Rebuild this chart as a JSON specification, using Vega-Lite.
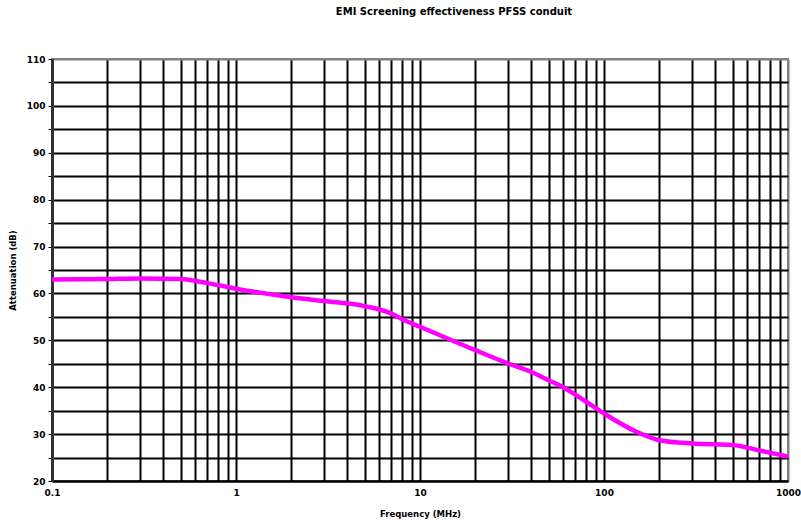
{
  "$schema": "https://vega.github.io/schema/vega-lite/v6.json",
  "autosize": {"type": "none"},
  "padding": {"left": 52, "top": 59, "right": 13, "bottom": 39},
  "width": 736,
  "height": 422,
  "title": {
    "text": "EMI Screening effectiveness PFSS conduit",
    "font": "DejaVu Sans",
    "fontSize": 10,
    "fontWeight": "bold",
    "color": "#000000",
    "offset": 38,
    "dx": 34
  },
  "config": {
    "view": {"stroke": "#808080", "strokeWidth": 2},
    "axis": {
      "labelFont": "DejaVu Sans",
      "labelFontSize": 9,
      "labelFontWeight": "bold",
      "labelColor": "#000000",
      "titleFont": "DejaVu Sans",
      "titleFontSize": 8.5,
      "titleFontWeight": "bold",
      "titleColor": "#000000",
      "gridOpacity": 1
    }
  },
  "data": {
    "values": [
      {"freq": 0.1, "att": 63.0},
      {"freq": 0.2, "att": 63.1},
      {"freq": 0.3, "att": 63.2},
      {"freq": 0.5, "att": 63.1},
      {"freq": 0.7, "att": 62.2},
      {"freq": 1, "att": 61.0},
      {"freq": 2, "att": 59.2},
      {"freq": 3, "att": 58.4},
      {"freq": 5, "att": 57.3},
      {"freq": 7, "att": 55.7},
      {"freq": 8, "att": 54.5},
      {"freq": 10, "att": 52.9},
      {"freq": 20, "att": 47.9},
      {"freq": 30, "att": 45.1},
      {"freq": 40, "att": 43.3},
      {"freq": 50, "att": 41.5},
      {"freq": 60, "att": 40.0},
      {"freq": 80, "att": 36.9},
      {"freq": 100, "att": 34.4},
      {"freq": 150, "att": 30.5},
      {"freq": 200, "att": 28.7},
      {"freq": 300, "att": 28.0},
      {"freq": 500, "att": 27.7},
      {"freq": 700, "att": 26.5},
      {"freq": 1000, "att": 25.2}
    ]
  },
  "mark": {"type": "line", "color": "#FF00FF", "strokeWidth": 4.5, "interpolate": "monotone", "clip": true},
  "encoding": {
    "x": {
      "field": "freq",
      "type": "quantitative",
      "scale": {"type": "log", "domain": [0.1, 1000], "nice": false},
      "axis": {
        "title": "Frequency (MHz)",
        "values": [0.1, 0.2, 0.3, 0.4, 0.5, 0.6, 0.7, 0.8, 0.9, 1, 2, 3, 4, 5, 6, 7, 8, 9, 10, 20, 30, 40, 50, 60, 70, 80, 90, 100, 200, 300, 400, 500, 600, 700, 800, 900, 1000],
        "format": "~g",
        "labelExpr": "indexof(['0.1','1','10','100','1000'], datum.label) >= 0 ? datum.label : ''",
        "labelFlush": false,
        "labelOverlap": false,
        "labelPadding": 7,
        "ticks": false,
        "grid": true,
        "gridColor": {"condition": {"test": "datum.value == 1000", "value": "#808080"}, "value": "#000000"},
        "gridWidth": 2,
        "domainColor": "#000000",
        "domainWidth": 2,
        "titlePadding": 12
      }
    },
    "y": {
      "field": "att",
      "type": "quantitative",
      "scale": {"domain": [20, 110], "nice": false, "zero": false},
      "axis": {
        "title": "Attenuation (dB)",
        "values": [20, 25, 30, 35, 40, 45, 50, 55, 60, 65, 70, 75, 80, 85, 90, 95, 100, 105, 110],
        "labelExpr": "datum.value % 10 == 0 ? datum.label : ''",
        "labelOverlap": false,
        "labelPadding": 3,
        "tickSize": 4,
        "tickColor": "#000000",
        "tickWidth": 1,
        "grid": true,
        "gridColor": {"condition": {"test": "datum.value == 110", "value": "#808080"}, "value": "#000000"},
        "gridWidth": 2,
        "domainColor": "#303030",
        "domainWidth": 3,
        "titlePadding": 9
      }
    }
  }
}
